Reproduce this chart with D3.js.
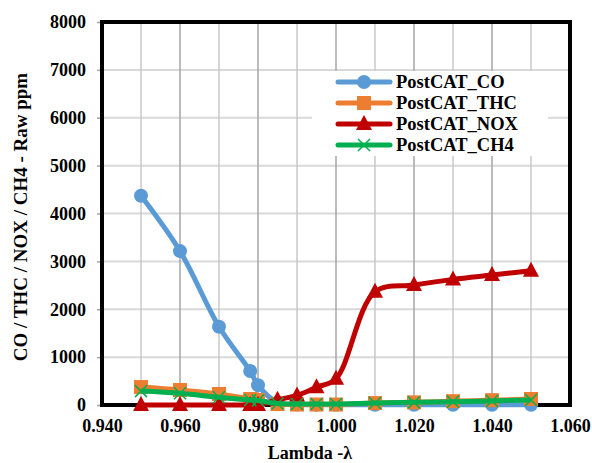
<!DOCTYPE html>
<html>
<head>
<meta charset="utf-8">
<script src="https://cdn.jsdelivr.net/npm/d3@7"></script>
<style>
  body { margin: 0; background: #fff; }
  text { font-family: "Liberation Serif", "Times New Roman", serif; font-weight: bold; }
</style>
</head>
<body>
<svg width="592" height="463"></svg>
<script>
// lambda values (x)
const lambda = [0.95, 0.96, 0.97, 0.978, 0.98, 0.985, 0.99, 0.995, 1.0, 1.01, 1.02, 1.03, 1.04, 1.05];

// raw ppm per series
const coValues  = [4370, 3215, 1635, 710, 415, 50, 10, 5, 5, 5, 5, 5, 5, 5];
const thcValues = [375, 313, 230, 125, 104, 20, 10, 10, 10, 40, 55, 80, 100, 125];
const noxValues = [0, 0, 0, 0, 0, 110, 200, 370, 550, 2365, 2505, 2624, 2714, 2804];
const ch4Values = [290, 244, 160, 104, 94, 30, 20, 20, 20, 40, 55, 70, 85, 104];

const seriesNames = ["PostCAT_CO", "PostCAT_THC", "PostCAT_NOX", "PostCAT_CH4"];
const xTicks = [0.94, 0.96, 0.98, 1.0, 1.02, 1.04, 1.06];
const yTicks = [0, 1000, 2000, 3000, 4000, 5000, 6000, 7000, 8000];

const COLORS = ["#5b9bd5", "#ed7d31", "#c00000", "#00b050"];
const SYMBOLS = ["circle", "square", "triangle", "cross"];

const svg = d3.select("svg");
const plot = { left: 102, right: 570, top: 22, bottom: 405 };

const x = d3.scaleLinear().domain([0.94, 1.06]).range([plot.left, plot.right]);
const y = d3.scaleLinear().domain([0, 8000]).range([plot.bottom, plot.top]);

// gridlines: horizontal
svg.append("g")
    .selectAll("line")
    .data(yTicks)
    .enter().append("line")
    .attr("x1", plot.left).attr("x2", plot.right)
    .attr("y1", d => y(d)).attr("y2", d => y(d))
    .style("stroke", "#d9d9d9")
    .style("stroke-width", 2);

// vertical gridlines every 0.01, the labelled ones are darker
const vGrid = d3.range(13).map(i => 0.94 + i * 0.01);
svg.append("g")
    .selectAll("line")
    .data(vGrid)
    .enter().append("line")
    .attr("x1", d => x(d)).attr("x2", d => x(d))
    .attr("y1", plot.top).attr("y2", plot.bottom)
    .style("stroke", (d, i) => i % 2 === 0 ? "#a6a6a6" : "#c8c8c8")
    .style("stroke-width", 1.5);

// axes
const yAxis = d3.axisLeft(y).tickValues(yTicks).tickSize(5).tickFormat(d3.format("d"));
const xAxis = d3.axisBottom(x).tickValues(xTicks).tickSize(0).tickFormat(d3.format(".3f"));

const gy = svg.append("g").attr("transform", `translate(${plot.left},0)`).call(yAxis);
gy.select(".domain").remove();
gy.selectAll(".tick line").style("stroke", "#a6a6a6").style("stroke-width", 1.5);
gy.selectAll(".tick text")
    .attr("x", -16)
    .style("font-size", "18px")
    .style("font-family", "Liberation Serif")
    .style("font-weight", "bold")
    .style("fill", "#000");

const gx = svg.append("g").attr("transform", `translate(0,${plot.bottom})`).call(xAxis);
gx.select(".domain").remove();
gx.selectAll(".tick text")
    .attr("y", 14)
    .style("font-size", "18px")
    .style("font-family", "Liberation Serif")
    .style("font-weight", "bold")
    .style("fill", "#000");

// plot frame
svg.append("rect")
    .attr("x", plot.left).attr("y", plot.top)
    .attr("width", plot.right - plot.left).attr("height", plot.bottom - plot.top)
    .style("fill", "none")
    .style("stroke", "#000")
    .style("stroke-width", 4);

// series
const allValues = [coValues, thcValues, noxValues, ch4Values];
const line = d3.line()
    .x(d => x(d[0]))
    .y(d => y(d[1]))
    .curve(d3.curveCatmullRom.alpha(0.5));

function drawMarker(g, kind, color, cx, cy) {
    if (kind === "circle") {
        g.append("circle").attr("cx", cx).attr("cy", cy).attr("r", 7).style("fill", color);
    } else if (kind === "square") {
        g.append("rect").attr("x", cx - 7).attr("y", cy - 7).attr("width", 14).attr("height", 14).style("fill", color);
    } else if (kind === "triangle") {
        g.append("path")
            .attr("d", `M${cx},${cy - 9}L${cx + 8},${cy + 6}L${cx - 8},${cy + 6}Z`)
            .style("fill", color);
    } else {
        g.append("path")
            .attr("d", `M${cx - 6},${cy - 6}L${cx + 6},${cy + 6}M${cx + 6},${cy - 6}L${cx - 6},${cy + 6}`)
            .style("stroke", color)
            .style("stroke-width", 1.5)
            .style("fill", "none");
    }
}

allValues.forEach((vals, s) => {
    const pts = lambda.map((l, i) => [l, vals[i]]);
    const g = svg.append("g");
    g.append("path")
        .attr("d", line(pts))
        .style("fill", "none")
        .style("stroke", COLORS[s])
        .style("stroke-width", 5)
        .style("stroke-linejoin", "round");
    pts.forEach(p => drawMarker(g, SYMBOLS[s], COLORS[s], x(p[0]), y(p[1])));
});

// legend
const legend = svg.append("g");
legend.append("rect")
    .attr("x", 312).attr("y", 71)
    .attr("width", 236).attr("height", 85)
    .style("fill", "#fff");
seriesNames.forEach((name, s) => {
    const ly = 82 + s * 21;
    legend.append("line")
        .attr("x1", 338).attr("x2", 390)
        .attr("y1", ly).attr("y2", ly)
        .style("stroke", COLORS[s])
        .style("stroke-width", 5)
        .style("stroke-linecap", "round");
    drawMarker(legend, SYMBOLS[s], COLORS[s], 364, ly);
    legend.append("text")
        .attr("x", 396).attr("y", ly + 6)
        .style("font-size", "18.5px")
        .text(name);
});

// axis titles
svg.append("text")
    .attr("x", 310).attr("y", 459)
    .attr("text-anchor", "middle")
    .style("font-size", "18px")
    .text("Lambda -λ");

svg.append("text")
    .attr("transform", "translate(27,217) rotate(-90)")
    .attr("text-anchor", "middle")
    .style("font-size", "19px")
    .text("CO / THC / NOX / CH4 - Raw ppm");
</script>
</body>
</html>
